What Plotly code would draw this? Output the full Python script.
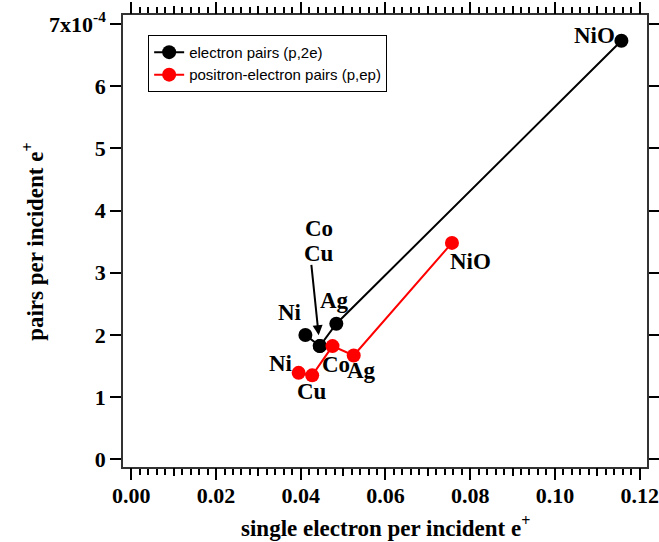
import plotly.graph_objects as go

# ---- data ----
materials = ["Ni", "Cu", "Co", "Ag", "NiO"]
single_2e = [0.0411, 0.0445, 0.0445, 0.0484, 0.1157]
pairs_2e = [2.00e-4, 1.82e-4, 1.82e-4, 2.18e-4, 6.73e-4]
single_ep = [0.0395, 0.0427, 0.0475, 0.0525, 0.0757]
pairs_ep = [1.39e-4, 1.35e-4, 1.82e-4, 1.67e-4, 3.48e-4]

x_tick_vals = [0.00, 0.02, 0.04, 0.06, 0.08, 0.10, 0.12]
y_tick_vals = [0, 1e-4, 2e-4, 3e-4, 4e-4, 5e-4, 6e-4, 7e-4]
y_tick_text = ["0", "1", "2", "3", "4", "5", "6", "7x10<sup>-4</sup>"]

SERIF = "Liberation Serif"
SANS = "Liberation Sans"
LBL = dict(family=SERIF, size=23, color="black", weight="bold")
TICKF = dict(family=SERIF, size=22, color="black", weight="bold")

fig = go.Figure()
fig.add_trace(go.Scatter(
    x=single_2e, y=pairs_2e, mode="lines+markers", name="electron pairs (p,2e)",
    line=dict(color="black", width=2), marker=dict(color="black", size=14)))
fig.add_trace(go.Scatter(
    x=single_ep, y=pairs_ep, mode="lines+markers", name="positron-electron pairs (p,ep)",
    line=dict(color="#ff0000", width=2), marker=dict(color="#ff0000", size=14)))

# invisible trace to host a medium-tick axis
fig.add_trace(go.Scatter(x=[None], y=[None], xaxis="x2", showlegend=False, hoverinfo="skip"))

# labels: (x, y, text, dx px, dy px)
labels = [
    (single_2e[4], pairs_2e[4], "NiO", -27, 5),
    (single_2e[3], pairs_2e[3], "Ag", -2, 23),
    (single_2e[0], pairs_2e[0], "Ni", -15, 22),
    (single_2e[1], pairs_2e[1], "Cu", -1, 93),
    (single_2e[2], pairs_2e[2], "Co", -1, 118),
    (single_ep[0], pairs_ep[0], "Ni", -18, 9),
    (single_ep[1], pairs_ep[1], "Cu", 0, -16),
    (single_ep[2], pairs_ep[2], "Co", 3, -18),
    (single_ep[3], pairs_ep[3], "Ag", 8, -15),
    (single_ep[4], pairs_ep[4], "NiO", 19, -19),
]
annotations = []
for x, y, t, dx, dy in labels:
    annotations.append(dict(x=x, y=y, text=t, showarrow=False, xshift=dx, yshift=dy,
                            font=LBL, xanchor="center", yanchor="middle"))
annotations.append(dict(x=single_2e[1], y=pairs_2e[1], text="", showarrow=True,
                        ax=-8.6, ay=-82.7, axref="pixel", ayref="pixel",
                        arrowhead=2, arrowsize=1, arrowwidth=2, arrowcolor="black",
                        standoff=11))
# axis titles
annotations.append(dict(xref="paper", yref="paper", x=0.5, y=-0.131,
                        text="single electron per incident e<sup>+</sup>", showarrow=False,
                        font=LBL, xanchor="center", yanchor="middle"))
annotations.append(dict(xref="paper", yref="paper", x=-0.172, y=0.5, textangle=-90,
                        text="pairs per incident e<sup>+</sup>", showarrow=False,
                        font=LBL, xanchor="center", yanchor="middle"))

xr = [-0.00196, 0.12174]
fig.update_layout(
    width=659, height=542,
    margin=dict(l=123, r=12, t=15, b=75, autoexpand=False),
    paper_bgcolor="white", plot_bgcolor="white",
    showlegend=True,
    legend=dict(x=0.048, y=0.956, xanchor="left", yanchor="top",
                bordercolor="black", borderwidth=1, bgcolor="white",
                font=dict(family=SANS, size=15, color="black"),
                tracegroupgap=0),
    annotations=annotations,
    xaxis=dict(range=xr, tickvals=x_tick_vals, tickformat=".2f", automargin=False,
               ticks="outside", ticklen=11, tickwidth=1.5, tickcolor="black",
               showline=True, linecolor="#333", linewidth=1.5, mirror="ticks",
               showgrid=False, zeroline=False, ticklabelstandoff=-3,
               minor=dict(dtick=0.002, tick0=0, ticks="outside", ticklen=6,
                          tickwidth=1.5, tickcolor="black", showgrid=False),
               tickfont=TICKF),
    xaxis2=dict(range=xr, overlaying="x", anchor="y", side="bottom", automargin=False,
                tick0=0, dtick=0.01, ticks="outside", ticklen=8, tickwidth=1.5,
                tickcolor="black", showticklabels=False, showline=False,
                mirror="ticks", showgrid=False, zeroline=False),
    yaxis=dict(range=[-0.124e-4, 7.145e-4], tickvals=y_tick_vals, ticktext=y_tick_text,
               automargin=False,
               ticks="outside", ticklen=11, tickwidth=1.5, tickcolor="black",
               showline=True, linecolor="#333", linewidth=1.5, mirror="ticks",
               showgrid=False, zeroline=False,
               tickfont=TICKF),
)

fig.write_html("out.html", config={"displayModeBar": False},
               post_script="document.body.style.margin='0';document.body.style.overflow='hidden';")
